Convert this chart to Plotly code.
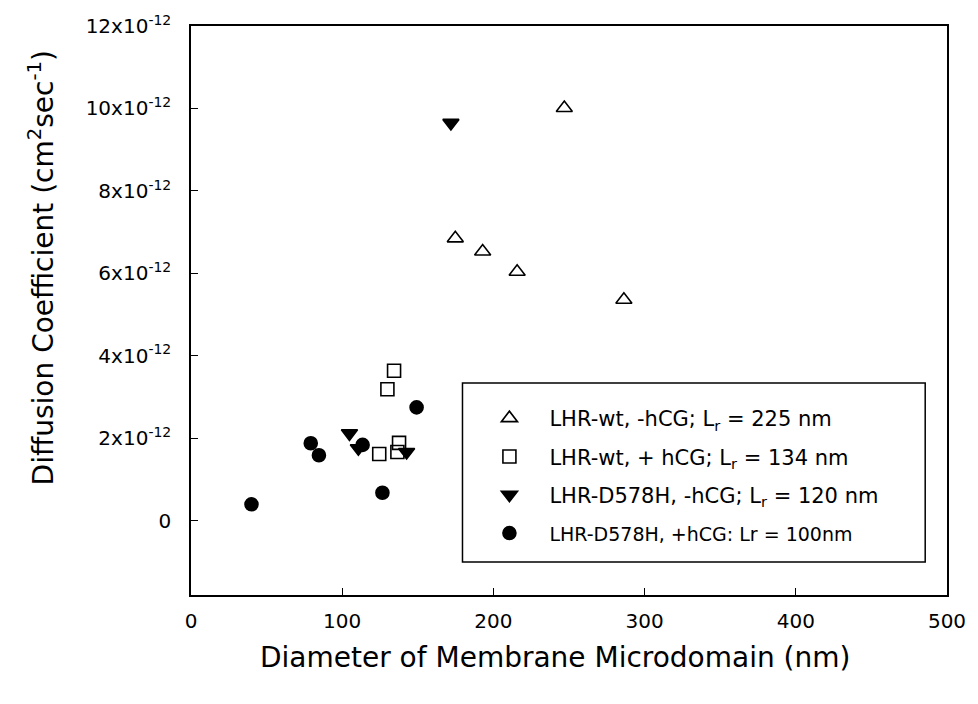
import plotly.graph_objects as go
import numpy as np

# Data (diffusion coefficient in units of 1e-12 cm^2/sec)
wt_minus_x = [174.8, 192.9, 215.7, 246.9, 286.3]
wt_minus_y = [6.85, 6.53, 6.04, 10.01, 5.36]

wt_plus_x = [134.3, 129.9, 124.5, 137.6, 136.5]
wt_plus_y = [3.64, 3.19, 1.62, 1.89, 1.67]

mut_minus_x = [171.9, 104.8, 110.7, 142.6]
mut_minus_y = [9.65, 2.12, 1.76, 1.67]

mut_plus_x = [40.0, 79.2, 84.6, 113.5, 126.6, 149.2]
mut_plus_y = [0.40, 1.88, 1.59, 1.84, 0.68, 2.75]

names = [
    "LHR-wt, -hCG; L<sub>r</sub> = 225 nm",
    "LHR-wt, + hCG; L<sub>r</sub> = 134 nm",
    "LHR-D578H, -hCG; L<sub>r</sub> = 120 nm",
    "<span style='font-size:19px'>LHR-D578H, +hCG: Lr = 100nm</span>",
]

y_tick_vals = [0, 2, 4, 6, 8, 10, 12]
y_tick_text = ["0"] + [f"{v}x10<sup>-12</sup>" for v in [2, 4, 6, 8, 10, 12]]
x_tick_vals = [0, 100, 200, 300, 400, 500]

x_title = "Diameter of Membrane Microdomain (nm)"
y_title = "Diffusion Coefficient (cm<sup>2</sup>sec<sup>-1</sup>)"

scale = 1e-12
FONT = "DejaVu Sans, Verdana, sans-serif"

# plot area in pixels
L, R, T, B = 191, 954, 26, 595
W, H = R - L, B - T


def px(xp):
    return (xp - L) / W


def py(yp):
    return (B - yp) / H


fig = go.Figure()
series = [
    (wt_minus_x, wt_minus_y, "triangle-up-open", 14),
    (wt_plus_x, wt_plus_y, "square-open", 13),
    (mut_minus_x, mut_minus_y, "triangle-down", 14),
    (mut_plus_x, mut_plus_y, "circle", 13),
]
for i, ((xs, ys, sym, sz), nm) in enumerate(zip(series, names)):
    fig.add_trace(go.Scatter(
        x=xs, y=np.array(ys) * scale, mode="markers", name=nm,
        legendgroup=f"g{i}",
        marker=dict(symbol=sym, size=sz, color="black",
                    line=dict(color="black", width=1.6)),
    ))

fig.update_layout(
    width=978, height=704,
    margin=dict(l=L, r=978 - R, t=T, b=704 - B),
    paper_bgcolor="white", plot_bgcolor="white",
    font=dict(family=FONT, size=20, color="black"),
    showlegend=True,
    legend=dict(
        x=px(472), y=py(398),
        xanchor="left", yanchor="top",
        borderwidth=0, bgcolor="rgba(0,0,0,0)",
        font=dict(family=FONT, size=21, color="black"),
        tracegroupgap=8, traceorder="grouped",
        itemwidth=70,
    ),
    shapes=[dict(type="rect", xref="paper", yref="paper",
                 x0=px(465), x1=px(932), y0=py(562), y1=py(383),
                 line=dict(color="black", width=1.5), fillcolor="white",
                 layer="below")],
    annotations=[
        dict(text=x_title, xref="paper", yref="paper",
             x=px(558), y=py(657), xanchor="center", yanchor="middle",
             showarrow=False, font=dict(family=FONT, size=28)),
        dict(text=y_title, xref="paper", yref="paper",
             x=px(40), y=py(268), xanchor="center", yanchor="middle",
             textangle=-90, showarrow=False,
             font=dict(family=FONT, size=28)),
    ],
    xaxis=dict(
        range=[0, 500], tickvals=x_tick_vals,
        ticks="inside", ticklen=7, tickcolor="black", tickwidth=1,
        showline=True, linecolor="black", linewidth=1.5, mirror=True,
        showgrid=False, zeroline=False,
        ticklabelstandoff=7,
        tickfont=dict(size=20),
    ),
    yaxis=dict(
        range=[-1.8e-12, 12e-12],
        tickvals=[v * scale for v in y_tick_vals], ticktext=y_tick_text,
        ticks="inside", ticklen=7, tickcolor="black", tickwidth=1,
        showline=True, linecolor="black", linewidth=1.5, mirror=True,
        showgrid=False, zeroline=False,
        ticklabelstandoff=14,
        tickfont=dict(size=20),
    ),
)

fig.write_html("out.html")
